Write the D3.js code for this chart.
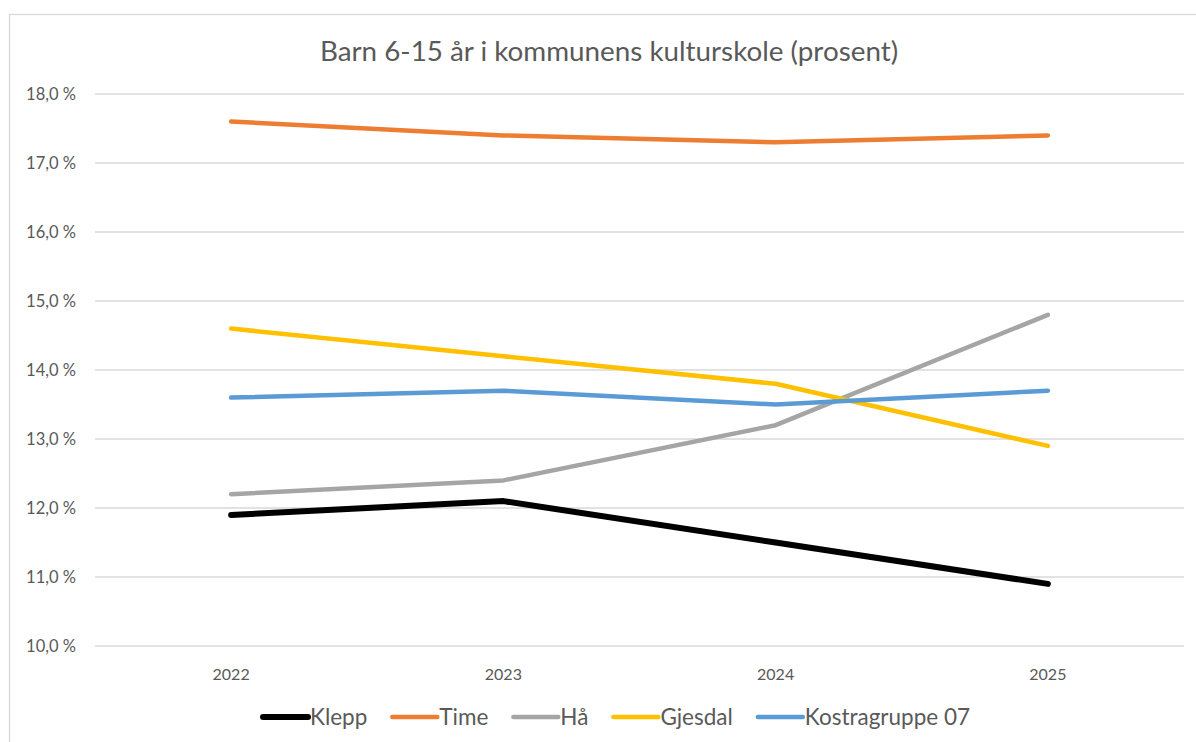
<!DOCTYPE html>
<meta charset="utf-8">
<style>
body { margin: 0; background: #fff; }
text { font-family: Lato, "Open Sans", sans-serif; fill: #595959; }
.grid line { stroke: #d9d9d9; stroke-width: 1.3px; }
.line { fill: none; stroke-linecap: round; stroke-linejoin: round; }
</style>
<body>
<script src="https://d3js.org/d3.v7.min.js"></script>
<script>
// data
var years = ["2022", "2023", "2024", "2025"];
var seriesNames = ["Klepp", "Time", "Hå", "Gjesdal", "Kostragruppe 07"];
var seriesColors = ["#000000", "#ED7D31", "#A5A5A5", "#FFC000", "#5B9BD5"];
var seriesWidths = [6, 4.5, 4.5, 4.5, 4.5];
var klepp = [11.9, 12.1, 11.5, 10.9];
var time = [17.6, 17.4, 17.3, 17.4];
var haa = [12.2, 12.4, 13.2, 14.8];
var gjesdal = [14.6, 14.2, 13.8, 12.9];
var kostra = [13.6, 13.7, 13.5, 13.7];
var yTicks = [10, 11, 12, 13, 14, 15, 16, 17, 18];
var title = "Barn 6-15 år i kommunens kulturskole (prosent)";

var allSeries = [klepp, time, haa, gjesdal, kostra];

var W = 1196, H = 742;
var margin = {top: 94, right: 12, bottom: 96, left: 95};
var width = W - margin.left - margin.right,
    height = H - margin.top - margin.bottom;

var svg = d3.select("body").append("svg")
    .attr("width", W)
    .attr("height", H);

// chart area border
svg.append("rect")
    .attr("x", 9.5).attr("y", 14.5)
    .attr("width", W).attr("height", H)
    .style("fill", "none")
    .style("stroke", "#d9d9d9")
    .style("stroke-width", 1.3);

svg.append("text")
    .attr("x", 609).attr("y", 61)
    .style("text-anchor", "middle")
    .style("font-size", "27.8px")
    .text(title);

var g = svg.append("g")
    .attr("transform", "translate(" + margin.left + "," + margin.top + ")");

var x = d3.scaleBand().domain(years).range([0, width]);
var y = d3.scaleLinear().domain([10, 18]).range([height, 0]);

// gridlines
g.append("g").attr("class", "grid")
  .selectAll("line")
  .data(yTicks)
  .enter().append("line")
    .attr("x1", 0).attr("x2", width)
    .attr("y1", function(d) { return y(d); })
    .attr("y2", function(d) { return y(d); });

// y labels
g.selectAll(".ylab")
  .data(yTicks)
  .enter().append("text")
    .attr("class", "ylab")
    .attr("x", -19)
    .attr("y", function(d) { return y(d); })
    .attr("dy", "0.35em")
    .style("text-anchor", "end")
    .style("font-size", "16.5px")
    .text(function(d) { return d.toFixed(1).replace(".", ",") + " %"; });

// x labels
g.selectAll(".xlab")
  .data(years)
  .enter().append("text")
    .attr("class", "xlab")
    .attr("x", function(d) { return x(d) + x.bandwidth() / 2; })
    .attr("y", height + 34)
    .style("text-anchor", "middle")
    .style("font-size", "16px")
    .text(function(d) { return d; });

var valueline = d3.line()
    .x(function(d, i) { return x(years[i]) + x.bandwidth() / 2; })
    .y(function(d) { return y(d); });

allSeries.forEach(function(s, i) {
  g.append("path")
      .datum(s)
      .attr("class", "line")
      .style("stroke", seriesColors[i])
      .style("stroke-width", seriesWidths[i])
      .attr("d", valueline);
});

// legend
var legend = svg.append("g").attr("class", "legend");
var lx = 263, ly = 717;
seriesNames.forEach(function(name, i) {
  legend.append("line")
      .attr("x1", lx).attr("x2", lx + 45)
      .attr("y1", ly).attr("y2", ly)
      .style("stroke", seriesColors[i])
      .style("stroke-width", seriesWidths[i])
      .style("stroke-linecap", "round");
  var t = legend.append("text")
      .attr("x", lx + 47)
      .attr("y", ly)
      .attr("dy", "0.35em")
      .style("font-size", "22.5px")
      .text(name);
  lx = lx + 47 + t.node().getComputedTextLength() + 25;
});
</script>
</body>
